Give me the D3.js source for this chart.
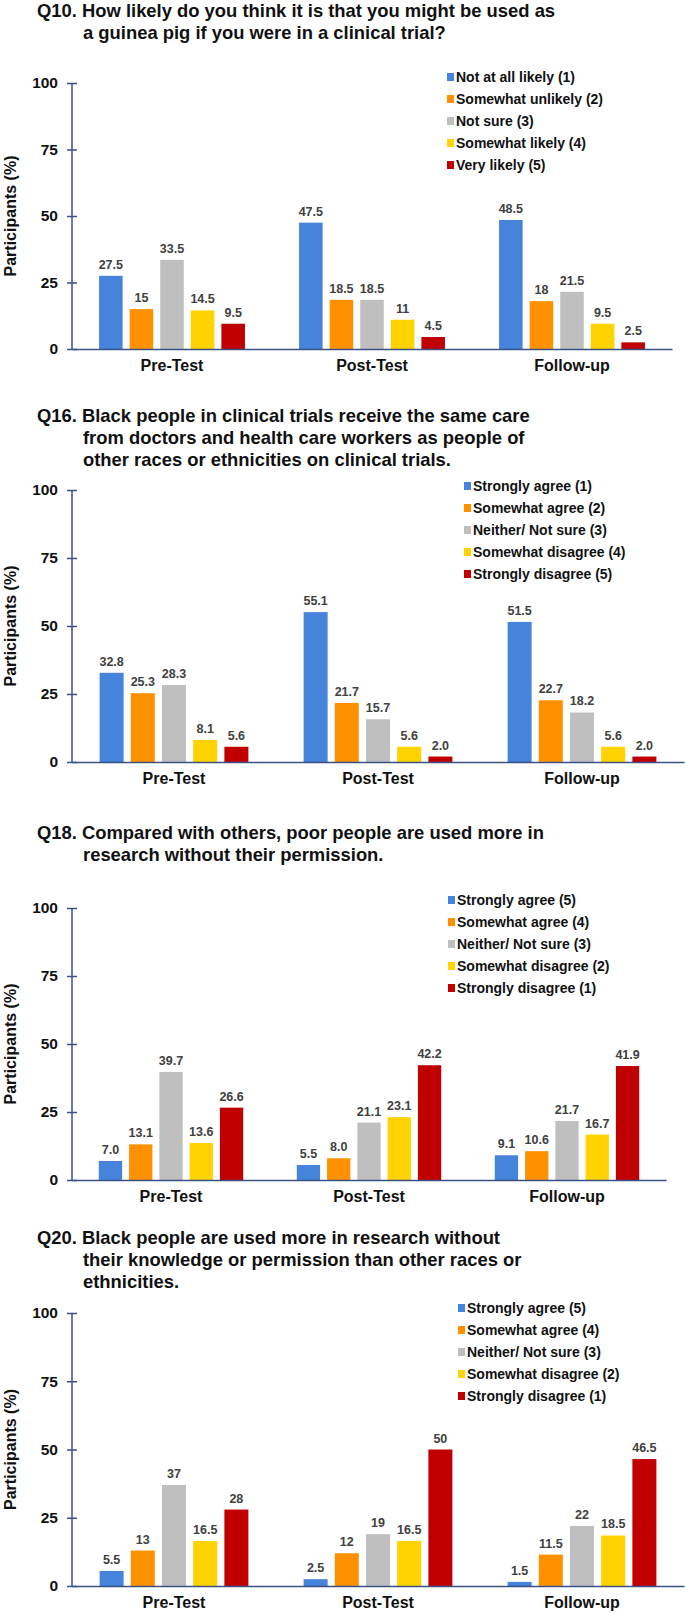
<!DOCTYPE html>
<html lang="en">
<head>
<meta charset="utf-8">
<title>Clinical trial survey</title>
<script src="https://d3js.org/d3.v7.min.js"></script>
<style>
body { margin: 0; background: #fff; }
svg { display: block; font-family: "Liberation Sans", Arial, sans-serif; font-weight: bold; }
</style>
</head>
<body>
<div id="plot"></div>
<script>
// categories shared by every panel
var groups = ["Pre-Test", "Post-Test", "Follow-up"];
var colors = ["#4683DB", "#FF9100", "#BFBFBF", "#FFD200", "#C00000"];
var yTicks = [0, 25, 50, 75, 100];

// Q10
var q10Title = ["Q10. How likely do you think it is that you might be used as",
                "a guinea pig if you were in a clinical trial?"];
var q10Legend = ["Not at all likely (1)", "Somewhat unlikely (2)", "Not sure (3)", "Somewhat likely (4)", "Very likely (5)"];
var q10Pre    = [27.5, 15, 33.5, 14.5, 9.5];
var q10Post   = [47.5, 18.5, 18.5, 11, 4.5];
var q10Follow = [48.5, 18, 21.5, 9.5, 2.5];

// Q16
var q16Title = ["Q16. Black people in clinical trials receive the same care",
                "from doctors and health care workers as people of",
                "other races or ethnicities on clinical trials."];
var q16Legend = ["Strongly agree (1)", "Somewhat agree (2)", "Neither/ Not sure (3)", "Somewhat disagree (4)", "Strongly disagree (5)"];
var q16Pre    = [32.8, 25.3, 28.3, 8.1, 5.6];
var q16Post   = [55.1, 21.7, 15.7, 5.6, 2.0];
var q16Follow = [51.5, 22.7, 18.2, 5.6, 2.0];

// Q18
var q18Title = ["Q18. Compared with others, poor people are used more in",
                "research without their permission."];
var q18Legend = ["Strongly agree (5)", "Somewhat agree (4)", "Neither/ Not sure (3)", "Somewhat disagree (2)", "Strongly disagree (1)"];
var q18Pre    = [7.0, 13.1, 39.7, 13.6, 26.6];
var q18Post   = [5.5, 8.0, 21.1, 23.1, 42.2];
var q18Follow = [9.1, 10.6, 21.7, 16.7, 41.9];

// Q20
var q20Title = ["Q20. Black people are used more in research without",
                "their knowledge or permission than other races or",
                "ethnicities."];
var q20Legend = ["Strongly agree (5)", "Somewhat agree (4)", "Neither/ Not sure (3)", "Somewhat disagree (2)", "Strongly disagree (1)"];
var q20Pre    = [5.5, 13, 37, 16.5, 28];
var q20Post   = [2.5, 12, 19, 16.5, 50];
var q20Follow = [1.5, 11.5, 22, 18.5, 46.5];

var width = 685, height = 1614;
var svg = d3.select("#plot").append("svg")
  .attr("width", width).attr("height", height);

var axisColor = "#3A5184";

// layout of each panel: title baseline, plot top/bottom, x end, legend x/y
var panels = [
  {title: q10Title, legend: q10Legend, values: [q10Pre, q10Post, q10Follow], fmt: String,
   titleY: 16.5, top: 83, bottom: 349, xEnd: 672, legX: 447, legY: 77},
  {title: q16Title, legend: q16Legend, values: [q16Pre, q16Post, q16Follow], fmt: d3.format(".1f"),
   titleY: 422, top: 490, bottom: 762, xEnd: 684, legX: 464, legY: 486},
  {title: q18Title, legend: q18Legend, values: [q18Pre, q18Post, q18Follow], fmt: d3.format(".1f"),
   titleY: 839, top: 908, bottom: 1180, xEnd: 666, legX: 448, legY: 900},
  {title: q20Title, legend: q20Legend, values: [q20Pre, q20Post, q20Follow], fmt: String,
   titleY: 1244, top: 1313, bottom: 1586, xEnd: 684, legX: 458, legY: 1308}
];

var xLeft = 72;

panels.forEach(function(p) {
  var g = svg.append("g");

  // title, first line starts with the question number, others are indented
  p.title.forEach(function(line, i) {
    g.append("text")
      .attr("x", i ? 83 : 37)
      .attr("y", p.titleY + i * 22)
      .attr("font-size", 18.4)
      .attr("fill", "#111")
      .text(line);
  });

  var x0 = d3.scaleBand().domain(groups).range([xLeft, p.xEnd]);
  var x1 = d3.scaleBand().domain(d3.range(5)).range([0, x0.bandwidth()])
    .paddingInner(0.23).paddingOuter(0.885);
  var y = d3.scaleLinear().domain([0, 100]).range([p.bottom, p.top]);

  // y axis with ticks crossing the line
  var yAxis = g.append("g")
    .attr("transform", "translate(" + xLeft + ",0)")
    .call(d3.axisLeft(y).tickValues(yTicks).tickSize(0).tickPadding(14));
  yAxis.select(".domain").remove();
  yAxis.selectAll(".tick text")
    .attr("font-size", 15.5).attr("font-family", null).attr("font-weight", "bold").attr("fill", "#111");
  yAxis.selectAll(".tick").append("line")
    .attr("x1", -5).attr("x2", 5).attr("stroke", axisColor).attr("stroke-width", 1.5);
  g.append("line")
    .attr("x1", xLeft).attr("x2", xLeft).attr("y1", p.top).attr("y2", p.bottom)
    .attr("stroke", axisColor).attr("stroke-width", 1.5);

  g.append("text")
    .attr("transform", "translate(16," + ((p.top + p.bottom) / 2) + ") rotate(-90)")
    .attr("text-anchor", "middle")
    .attr("font-size", 16)
    .attr("fill", "#111")
    .text("Participants (%)");

  // bars
  var grp = g.selectAll(".grp").data(groups).enter().append("g")
    .attr("transform", function(d) { return "translate(" + x0(d) + ",0)"; });

  grp.selectAll("rect")
    .data(function(d, gi) { return p.values[gi].map(function(v, si) { return {v: v, s: si}; }); })
    .enter().append("rect")
    .attr("x", function(d) { return x1(d.s); })
    .attr("width", x1.bandwidth())
    .attr("y", function(d) { return y(d.v); })
    .attr("height", function(d) { return y(0) - y(d.v); })
    .attr("fill", function(d) { return colors[d.s]; });

  grp.selectAll(".val")
    .data(function(d, gi) { return p.values[gi].map(function(v, si) { return {v: v, s: si}; }); })
    .enter().append("text")
    .attr("class", "val")
    .attr("x", function(d) { return x1(d.s) + x1.bandwidth() / 2; })
    .attr("y", function(d) { return y(d.v) - 7; })
    .attr("text-anchor", "middle")
    .attr("font-size", 12.5)
    .attr("fill", "#404040")
    .text(function(d) { return p.fmt(d.v); });

  // x axis
  var xAxis = g.append("g")
    .attr("transform", "translate(0," + p.bottom + ")")
    .call(d3.axisBottom(x0).tickSize(0).tickPadding(11));
  xAxis.select(".domain").attr("stroke", axisColor).attr("stroke-width", 1.5);
  xAxis.selectAll(".tick text")
    .attr("font-size", 16).attr("font-family", null).attr("font-weight", "bold").attr("fill", "#111");

  // legend
  var leg = g.selectAll(".leg").data(p.legend).enter().append("g")
    .attr("transform", function(d, i) { return "translate(" + p.legX + "," + (p.legY + i * 22) + ")"; });
  leg.append("rect")
    .attr("x", 0).attr("y", -4).attr("width", 7).attr("height", 8)
    .attr("fill", function(d, i) { return colors[i]; });
  leg.append("text")
    .attr("x", 9).attr("y", 5)
    .attr("font-size", 14)
    .attr("fill", "#111")
    .text(function(d) { return d; });
});
</script>
</body>
</html>
